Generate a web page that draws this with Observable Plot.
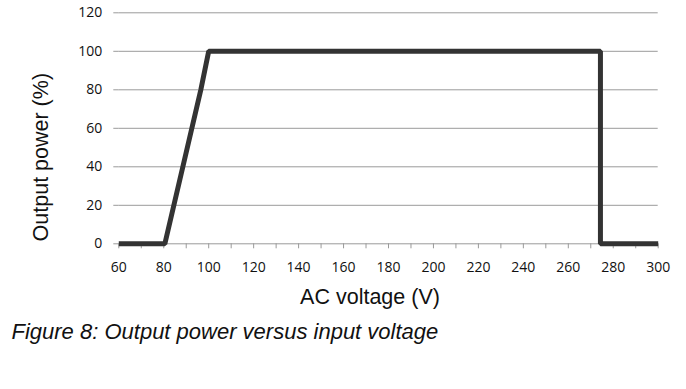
<!DOCTYPE html>
<html>
<head>
<meta charset="utf-8">
<script src="https://cdn.jsdelivr.net/npm/d3@7"></script>
<script src="https://cdn.jsdelivr.net/npm/@observablehq/plot@0.6"></script>
<style>
  html, body { margin: 0; padding: 0; background: #fff; width: 686px; height: 389px; overflow: hidden; position: relative; }
  #chart svg { display: block; }
  #caption { position: absolute; left: 11.5px; top: 320.7px; font-family: "Liberation Sans", Arial, sans-serif; font-style: italic; font-size: 22px; line-height: 22px; color: #111; white-space: nowrap; }
</style>
</head>
<body>
<div id="chart"></div>
<div id="caption">Figure 8: Output power versus input voltage</div>
<script>
// Data
const voltage = [60, 80.5, 96.5, 100, 274.3, 274.3, 300];
const power   = [0, 0, 80, 100, 100, 0, 0];

const yTicks = [0, 20, 40, 60, 80, 100, 120];
const xTicks = [60, 80, 100, 120, 140, 160, 180, 200, 220, 240, 260, 280, 300];
const xMinorTicks = [60, 70, 80, 90, 100, 110, 120, 130, 140, 150, 160, 170, 180, 190, 200, 210, 220, 230, 240, 250, 260, 270, 280, 290, 300];

const xTitle = "AC voltage (V)";
const yTitle = "Output power (%)";

const points = voltage.map((v, i) => ({v, p: power[i]}));

const tickFont = "'Open Sans', 'DejaVu Sans', sans-serif";
const titleFont = "'Liberation Sans', Arial, sans-serif";

const chart = Plot.plot({
  width: 686,
  height: 315,
  marginLeft: 118.3,
  marginRight: 28.3,
  marginTop: 12.3,
  marginBottom: 71.7,
  style: {background: "#fff", color: "#111"},
  x: {domain: [60, 300]},
  y: {domain: [0, 120]},
  marks: [
    Plot.gridY(yTicks, {stroke: "#9a9a9a", strokeOpacity: 1, strokeWidth: 1}),
    Plot.axisY({ticks: yTicks, tickSize: 5, tickPadding: 11.6, stroke: "#9a9a9a", fontSize: 14, fontFamily: tickFont, fill: "#111", label: null}),
    Plot.axisX({ticks: xMinorTicks, tickSize: 5, tickFormat: () => "", stroke: "#9a9a9a", label: null}),
    Plot.axisX({ticks: xTicks, tickSize: 0, tickPadding: 18.5, fontSize: 14, fontFamily: tickFont, fill: "#111", label: null}),
    Plot.line(points, {x: "v", y: "p", stroke: "#333", strokeWidth: 5, strokeLinejoin: "miter", strokeLinecap: "butt"}),
    Plot.text([xTitle], {frameAnchor: "bottom", lineAnchor: "bottom", textAnchor: "middle", dx: -18.5, dy: 60.2, fontSize: 21.5, fontFamily: titleFont, fill: "#111"}),
    Plot.text([yTitle], {frameAnchor: "left", lineAnchor: "bottom", textAnchor: "middle", rotate: -90, dx: -71.3, dy: 28.9, fontSize: 21.5, fontFamily: titleFont, fill: "#111"})
  ]
});
document.getElementById("chart").appendChild(chart);
</script>
</body>
</html>
